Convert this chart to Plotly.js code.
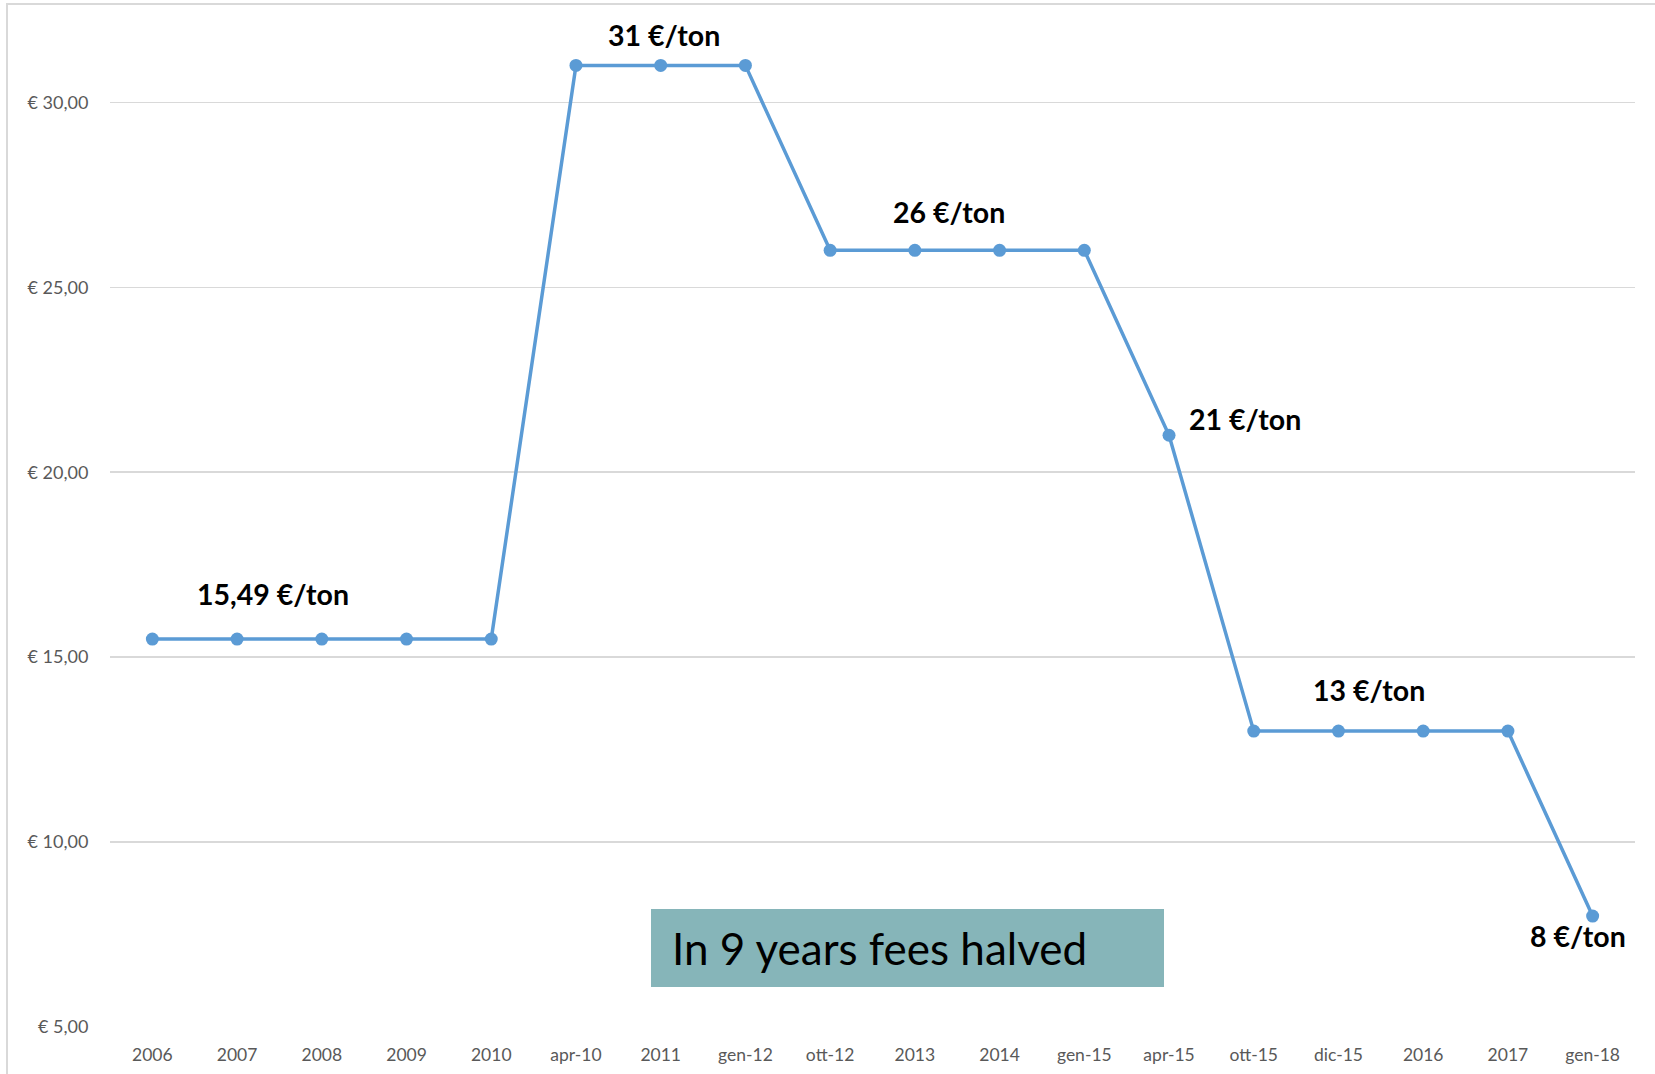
<!DOCTYPE html>
<html>
<head>
<meta charset="utf-8">
<script src="https://cdn.plot.ly/plotly-3.0.1.min.js"></script>
<style>
  html, body { margin: 0; padding: 0; background: #fff; overflow: hidden; }
  #frame { position: absolute; left: 6px; top: 3px; width: 1700px; height: 1100px;
           border-left: 2px solid #D9D9D9; border-top: 2px solid #D9D9D9; pointer-events: none; }
  #chart { position: absolute; left: 0; top: 0; width: 1655px; height: 1074px; }
</style>
</head>
<body>
<div id="chart"></div>
<div id="frame"></div>
<script>
// Data
const categories = ["2006","2007","2008","2009","2010","apr-10","2011","gen-12","ott-12","2013","2014","gen-15","apr-15","ott-15","dic-15","2016","2017","gen-18"];
const fees = [15.49,15.49,15.49,15.49,15.49,31,31,31,26,26,26,26,21,13,13,13,13,8];
const labelTexts = ["15,49 €/ton","31 €/ton","26 €/ton","21 €/ton","13 €/ton","8 €/ton"];
const labelAt = ["2007","2011","2013","apr-15","dic-15","gen-18"];
const boxText = "In 9 years fees halved";

// pixel offsets of labels from their points (x right, y up)
const labelShift = [[36,45],[3,30],[34,38],[76,16],[31,41],[-15,-20]];

const annotations = labelTexts.map((t, i) => {
  const idx = categories.indexOf(labelAt[i]);
  return {
    x: idx, y: fees[idx], xref: 'x', yref: 'y',
    text: '<b>' + t + '</b>', showarrow: false,
    xshift: labelShift[i][0], yshift: labelShift[i][1],
    font: {family: 'Lato, "Open Sans", sans-serif', size: 28.5, color: '#000000'}
  };
});

annotations.push({
  xref: 'paper', yref: 'paper',
  x: (670 - 110) / 1525, y: (1027 - 948) / 1023,
  xanchor: 'left', yanchor: 'middle',
  text: boxText, showarrow: false,
  font: {family: 'Lato, "Open Sans", sans-serif', size: 44, color: '#000000'}
});

const trace = {
  x: categories, y: fees, type: 'scatter', mode: 'lines+markers',
  line: {color: '#5B9BD5', width: 3.5},
  marker: {color: '#5B9BD5', size: 13},
  hoverinfo: 'skip'
};

const layout = {
  width: 1655, height: 1074,
  margin: {l: 110, r: 20, t: 4, b: 47, pad: 0},
  paper_bgcolor: '#ffffff', plot_bgcolor: '#ffffff',
  showlegend: false,
  font: {family: 'Lato, "Open Sans", sans-serif', color: '#595959', size: 17},
  xaxis: {
    type: 'category', range: [-0.5, 17.5],
    showgrid: false, zeroline: false, showline: false,
    ticks: 'outside', ticklen: 12, tickcolor: 'rgba(0,0,0,0)',
    tickfont: {size: 17.5, color: '#595959'}, fixedrange: true
  },
  yaxis: {
    range: [5, 32.66], dtick: 5, tick0: 5,
    tickformat: '.2f', tickprefix: '€ ',
    showgrid: true, gridcolor: '#D9D9D9', gridwidth: 1.5,
    zeroline: false, showline: false,
    ticks: 'outside', ticklen: 17, tickcolor: 'rgba(0,0,0,0)',
    tickfont: {size: 18, color: '#595959'}, fixedrange: true
  },
  separators: ',.',
  shapes: [{
    type: 'rect', xref: 'paper', yref: 'paper', layer: 'below',
    x0: (651 - 110) / 1525, x1: (1164 - 110) / 1525,
    y0: (1027 - 987) / 1023, y1: (1027 - 909) / 1023,
    fillcolor: '#86B5B9', line: {width: 0}
  }],
  annotations: annotations
};

Plotly.newPlot('chart', [trace], layout, {displayModeBar: false, staticPlot: true});
</script>
</body>
</html>
